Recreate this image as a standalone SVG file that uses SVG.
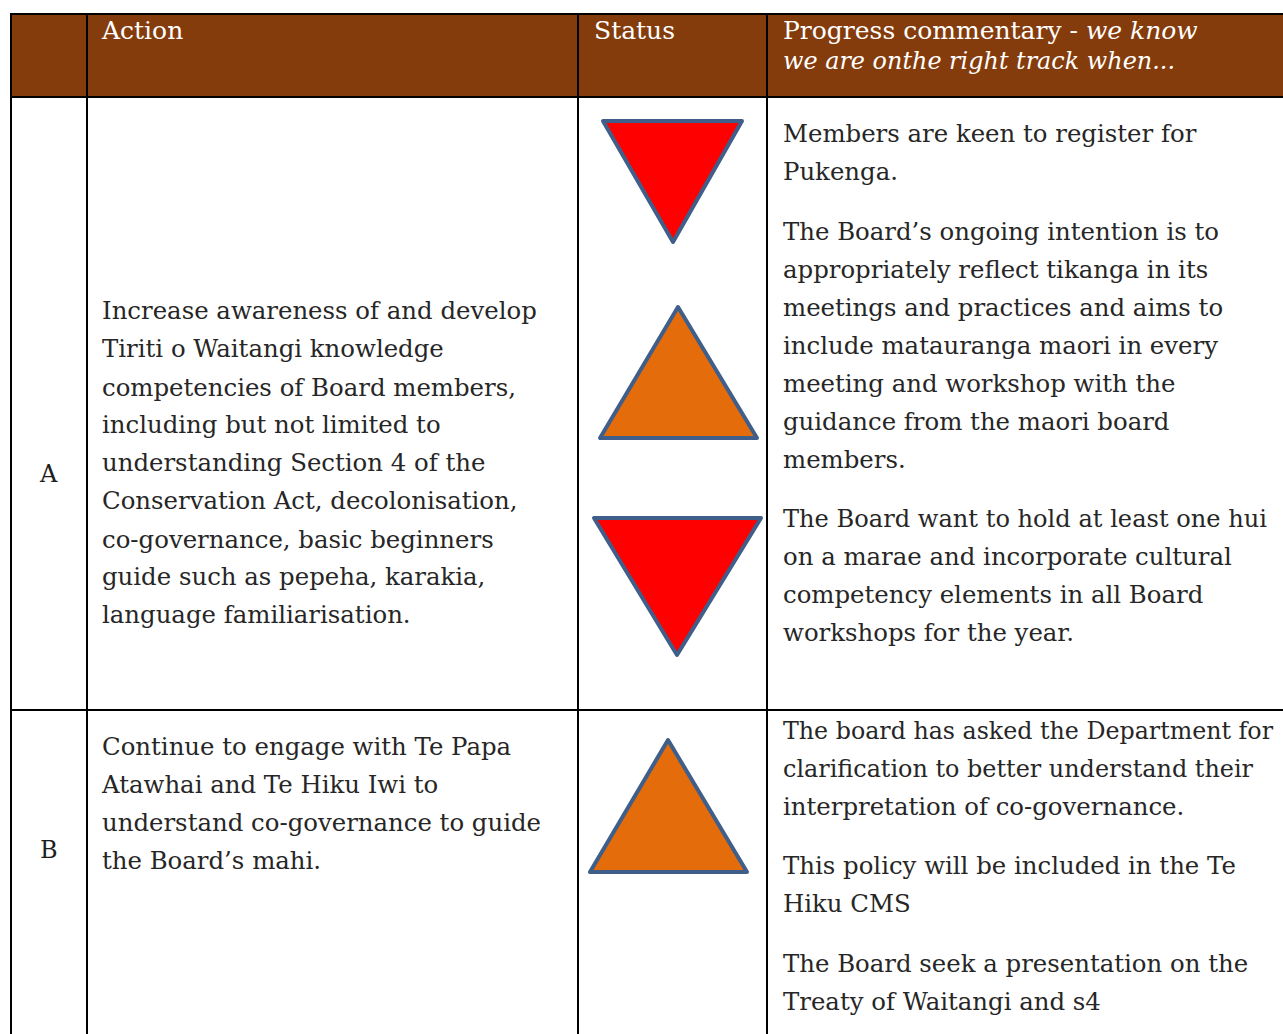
<svg xmlns="http://www.w3.org/2000/svg" width="1283" height="1034" viewBox="0 0 1283 1034">
<style>
.t{font-family:"DejaVu Serif","Liberation Serif",serif;font-size:24.4px;fill:#262626}
.h{font-family:"DejaVu Serif","Liberation Serif",serif;font-size:25px;fill:#ffffff}
.hi{font-style:italic}
.lbl{font-family:"DejaVu Serif","Liberation Serif",serif;font-size:24px;fill:#1e1e1e}
.grid{stroke:#000;stroke-width:2;fill:none}
.red{fill:#ff0000;stroke:#3f5f8a;stroke-width:4;stroke-linejoin:round}
.amb{fill:#e46c0a;stroke:#3f5f8a;stroke-width:4;stroke-linejoin:round}
</style>
<rect width="1283" height="1034" fill="#fff"/>
<g id="header">
<rect x="11" y="14" width="1272" height="83" fill="#843c0c"/>
<text class="h" x="102" y="39">Action</text>
<text class="h" x="594" y="39">Status</text>
<text class="h" x="783" y="39">Progress commentary - <tspan class="hi">we know</tspan></text>
<text class="h hi" x="783" y="69" textLength="392" lengthAdjust="spacingAndGlyphs">we are onthe right track when...</text>
</g>
<g id="grid" class="grid">
<line x1="11" y1="14" x2="1283" y2="14"/>
<line x1="11" y1="97" x2="1283" y2="97"/>
<line x1="11" y1="710" x2="1283" y2="710"/>
<line x1="11" y1="13" x2="11" y2="1034"/>
<line x1="87" y1="13" x2="87" y2="1034"/>
<line x1="578" y1="13" x2="578" y2="1034"/>
<line x1="767" y1="13" x2="767" y2="1034"/>
</g>
<g id="rowA">
<text class="lbl" x="40" y="482">A</text>
<text class="t" x="102" y="319">Increase awareness of and develop</text>
<text class="t" x="102" y="357">Tiriti o Waitangi knowledge</text>
<text class="t" x="102" y="396">competencies of Board members,</text>
<text class="t" x="102" y="433">including but not limited to</text>
<text class="t" x="102" y="471">understanding Section 4 of the</text>
<text class="t" x="102" y="509">Conservation Act, decolonisation,</text>
<text class="t" x="102" y="548">co-governance, basic beginners</text>
<text class="t" x="102" y="585">guide such as pepeha, karakia,</text>
<text class="t" x="102" y="623">language familiarisation.</text>
<polygon class="red" points="603,121 742,121 673,242"/>
<polygon class="amb" points="678,307 600,438 757,438"/>
<polygon class="red" points="594,518 761,518 677,655"/>
<text class="t" x="783" y="142">Members are keen to register for</text>
<text class="t" x="783" y="180">Pukenga.</text>
<text class="t" x="783" y="240">The Board’s ongoing intention is to</text>
<text class="t" x="783" y="278">appropriately reflect tikanga in its</text>
<text class="t" x="783" y="316">meetings and practices and aims to</text>
<text class="t" x="783" y="354">include matauranga maori in every</text>
<text class="t" x="783" y="392">meeting and workshop with the</text>
<text class="t" x="783" y="430">guidance from the maori board</text>
<text class="t" x="783" y="468">members.</text>
<text class="t" x="783" y="527" textLength="484" lengthAdjust="spacingAndGlyphs">The Board want to hold at least one hui</text>
<text class="t" x="783" y="565">on a marae and incorporate cultural</text>
<text class="t" x="783" y="603">competency elements in all Board</text>
<text class="t" x="783" y="641">workshops for the year.</text>
</g>
<g id="rowB">
<text class="lbl" x="40" y="858">B</text>
<text class="t" x="102" y="755">Continue to engage with Te Papa</text>
<text class="t" x="102" y="793">Atawhai and Te Hiku Iwi to</text>
<text class="t" x="102" y="831">understand co-governance to guide</text>
<text class="t" x="102" y="869">the Board’s mahi.</text>
<polygon class="amb" points="668,740 590,872 747,872"/>
<text class="t" x="783" y="739" textLength="490" lengthAdjust="spacingAndGlyphs">The board has asked the Department for</text>
<text class="t" x="783" y="777" textLength="470" lengthAdjust="spacingAndGlyphs">clarification to better understand their</text>
<text class="t" x="783" y="815">interpretation of co-governance.</text>
<text class="t" x="783" y="874">This policy will be included in the Te</text>
<text class="t" x="783" y="912">Hiku CMS</text>
<text class="t" x="783" y="972">The Board seek a presentation on the</text>
<text class="t" x="783" y="1010">Treaty of Waitangi and s4</text>
</g>
</svg>
